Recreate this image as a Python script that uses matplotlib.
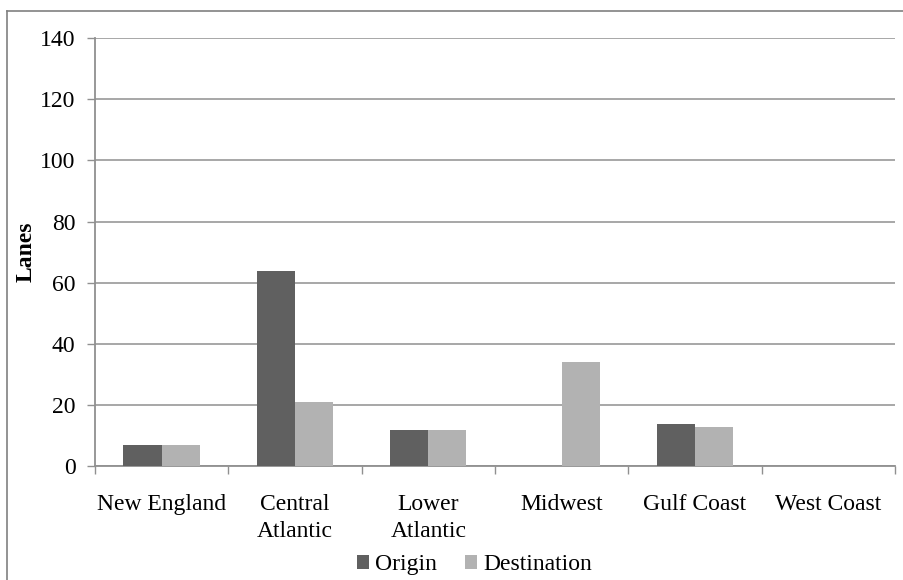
import matplotlib.pyplot as plt
import numpy as np
from matplotlib.lines import Line2D

regions = ['New England', 'Central\nAtlantic', 'Lower\nAtlantic', 'Midwest', 'Gulf Coast', 'West Coast']
origin = [7, 64, 12, 0, 14, 0]
destination = [7, 21, 12, 34, 13, 0]
y_ticks = [0, 20, 40, 60, 80, 100, 120, 140]

plt.rcParams['font.family'] = ['Liberation Serif', 'DejaVu Serif']
fs = 17

fig = plt.figure(figsize=(9.04, 5.80), dpi=100)
ax = fig.add_axes([0.105, 0.1957, 0.885, 0.739])

x = np.arange(len(regions))
w = 1 / 3.5
ax.bar(x - w / 2, origin, w, color='#606060', label='Origin', zorder=3)
ax.bar(x + w / 2, destination, w, color='#b2b2b2', label='Destination', zorder=3)

ax.set_xlim(-0.5, len(regions) - 0.5)
ax.set_ylim(0, 140)
ax.set_yticks(y_ticks)
ax.yaxis.grid(True, color='#a0a0a0', linewidth=1.3, zorder=0)
ax.tick_params(axis='y', labelsize=fs, length=6, width=1, color='#909090', pad=8)

# category boundaries get the tick marks, names sit between them
ax.set_xticks(np.arange(-0.5, len(regions)), labels=[])
ax.set_xticks(x, labels=regions, minor=True)
ax.tick_params(axis='x', which='major', length=6, width=1, color='#909090')
ax.tick_params(axis='x', which='minor', length=0, labelsize=fs, pad=19.5)
for lbl in ax.get_xticklabels(minor=True):
    lbl.set_linespacing(1.4)
    lbl.set_verticalalignment('top')

for side in ['top', 'right']:
    ax.spines[side].set_visible(False)
for side in ['left', 'bottom']:
    ax.spines[side].set_color('#909090')
    ax.spines[side].set_linewidth(1.3)

ax.set_ylabel('Lanes', fontsize=fs, fontweight='bold')
ax.yaxis.set_label_coords(-0.073, 0.5)

fig.legend(loc='center', bbox_to_anchor=(0.525, 0.026), ncol=2, frameon=False,
           fontsize=fs, handlelength=0.5, handleheight=0.5, handletextpad=0.25,
           columnspacing=1.2, borderaxespad=0)

# outer chart frame
fig.add_artist(Line2D([0.008, 0.008], [0, 0.981], color='#808080', linewidth=1.2))
fig.add_artist(Line2D([0.008, 1.0], [0.981, 0.981], color='#808080', linewidth=1.2))

fig.savefig('out.png', dpi=100)
